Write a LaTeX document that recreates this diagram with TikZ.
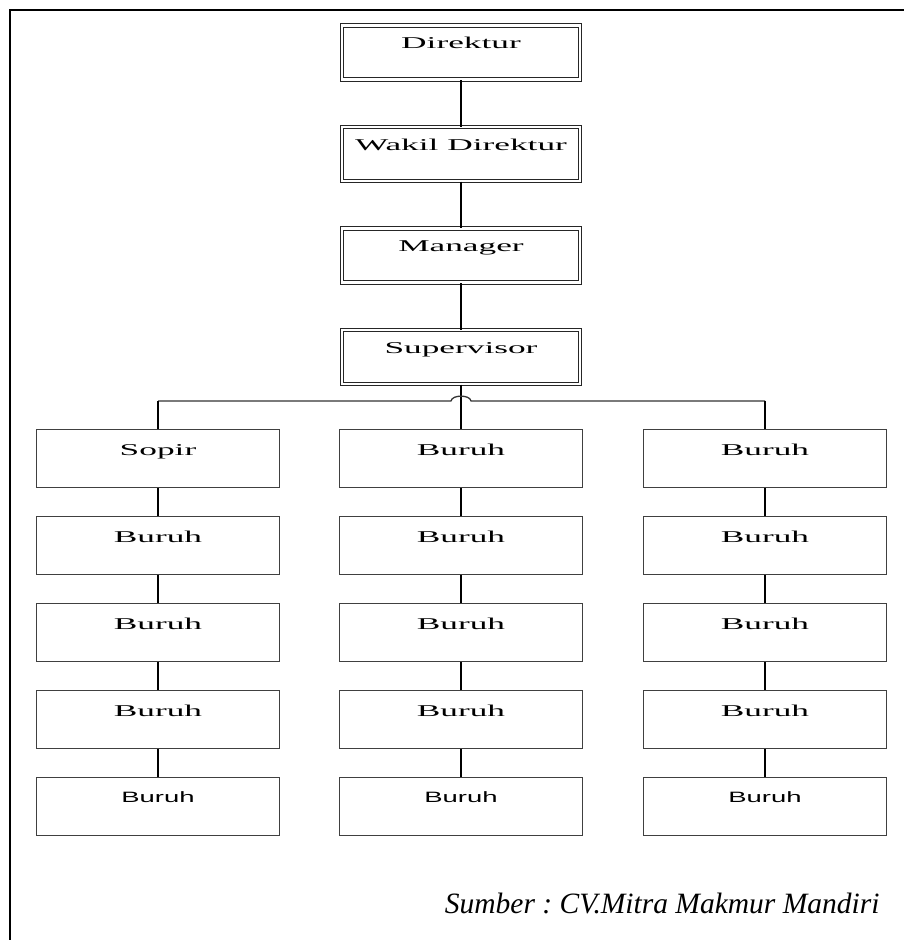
\documentclass[tikz,border=0pt]{standalone}
\usepackage{fontspec}
\setmainfont{Liberation Serif}
\newfontfamily\boxfont[FakeStretch=2.14]{Liberation Serif}
\newfontfamily\boxsans[FakeStretch=1.83]{Liberation Sans}
\frenchspacing

\tikzset{
  topbox/.style={draw=black!85, line width=1pt, double, double distance=2.5pt,
    minimum width=238pt, minimum height=54pt, inner sep=0pt,
    text height=23pt, text depth=31pt, font=\boxfont\fontsize{16.5pt}{18pt}\selectfont},
  unitbox/.style={draw=black!75, line width=1.3pt,
    minimum width=243pt, minimum height=58pt, inner sep=0pt,
    text height=26pt, text depth=32pt, font=\boxfont\fontsize{16.5pt}{18pt}\selectfont},
  lastbox/.style={unitbox, text height=25pt, text depth=33pt,
    font=\boxsans\fontsize{15pt}{17pt}\selectfont},
  link/.style={draw=black, line width=1.3pt}
}

\begin{document}
\begin{tikzpicture}[x=1pt,y=1pt,yscale=-1,xscale=1]
\useasboundingbox (0,0) rectangle (904,940);
%Frame
\draw [line width=2pt] (10,940) -- (10,10) -- (904,10) ;
% Top boxes
\node [topbox] (dir) at (461,52.5) {Direktur};
\node [topbox] (wadir) at (461,154) {Wakil Direktur};
\node [topbox] (mgr) at (461,255.5) {Manager};
\node [topbox] (spv) at (461,357) {Supervisor};
% Left column
\node [unitbox] (l1) at (158,458.5) {Sopir};
\node [unitbox] (l2) at (158,545.5) {Buruh};
\node [unitbox] (l3) at (158,632.5) {Buruh};
\node [unitbox] (l4) at (158,719.5) {Buruh};
\node [lastbox] (l5) at (158,806.5) {Buruh};
% Middle column
\node [unitbox] (m1) at (461,458.5) {Buruh};
\node [unitbox] (m2) at (461,545.5) {Buruh};
\node [unitbox] (m3) at (461,632.5) {Buruh};
\node [unitbox] (m4) at (461,719.5) {Buruh};
\node [lastbox] (m5) at (461,806.5) {Buruh};
% Right column
\node [unitbox] (r1) at (765,458.5) {Buruh};
\node [unitbox] (r2) at (765,545.5) {Buruh};
\node [unitbox] (r3) at (765,632.5) {Buruh};
\node [unitbox] (r4) at (765,719.5) {Buruh};
\node [lastbox] (r5) at (765,806.5) {Buruh};
% Chain lines
\draw [link] (dir) -- (wadir) ;
\draw [link] (wadir) -- (mgr) ;
\draw [link] (mgr) -- (spv) ;
\draw [link] (spv) -- (m1) ;
\draw [link] (l1) -- (l2) (l2) -- (l3) (l3) -- (l4) (l4) -- (l5) ;
\draw [link] (m1) -- (m2) (m2) -- (m3) (m3) -- (m4) (m4) -- (m5) ;
\draw [link] (r1) -- (r2) (r2) -- (r3) (r3) -- (r4) (r4) -- (r5) ;
% Bus line with hop over the middle line
\coordinate (busl) at (158,401) ;
\coordinate (busr) at (765,401) ;
\coordinate (hopl) at (451,401) ;
\coordinate (hopr) at (471,401) ;
\draw [link, draw=black!80] (busl) -- (hopl) .. controls (452,394.5) and (470,394.5) .. (hopr) -- (busr) ;
\draw [link] (busl) -- (l1) ;
\draw [link] (busr) -- (r1) ;
% Text Node
\draw (883,913) node [anchor=base east, font=\itshape\fontsize{29.5pt}{32pt}\selectfont] {Sumber : CV.Mitra Makmur Mandiri};
\end{tikzpicture}
\end{document}
